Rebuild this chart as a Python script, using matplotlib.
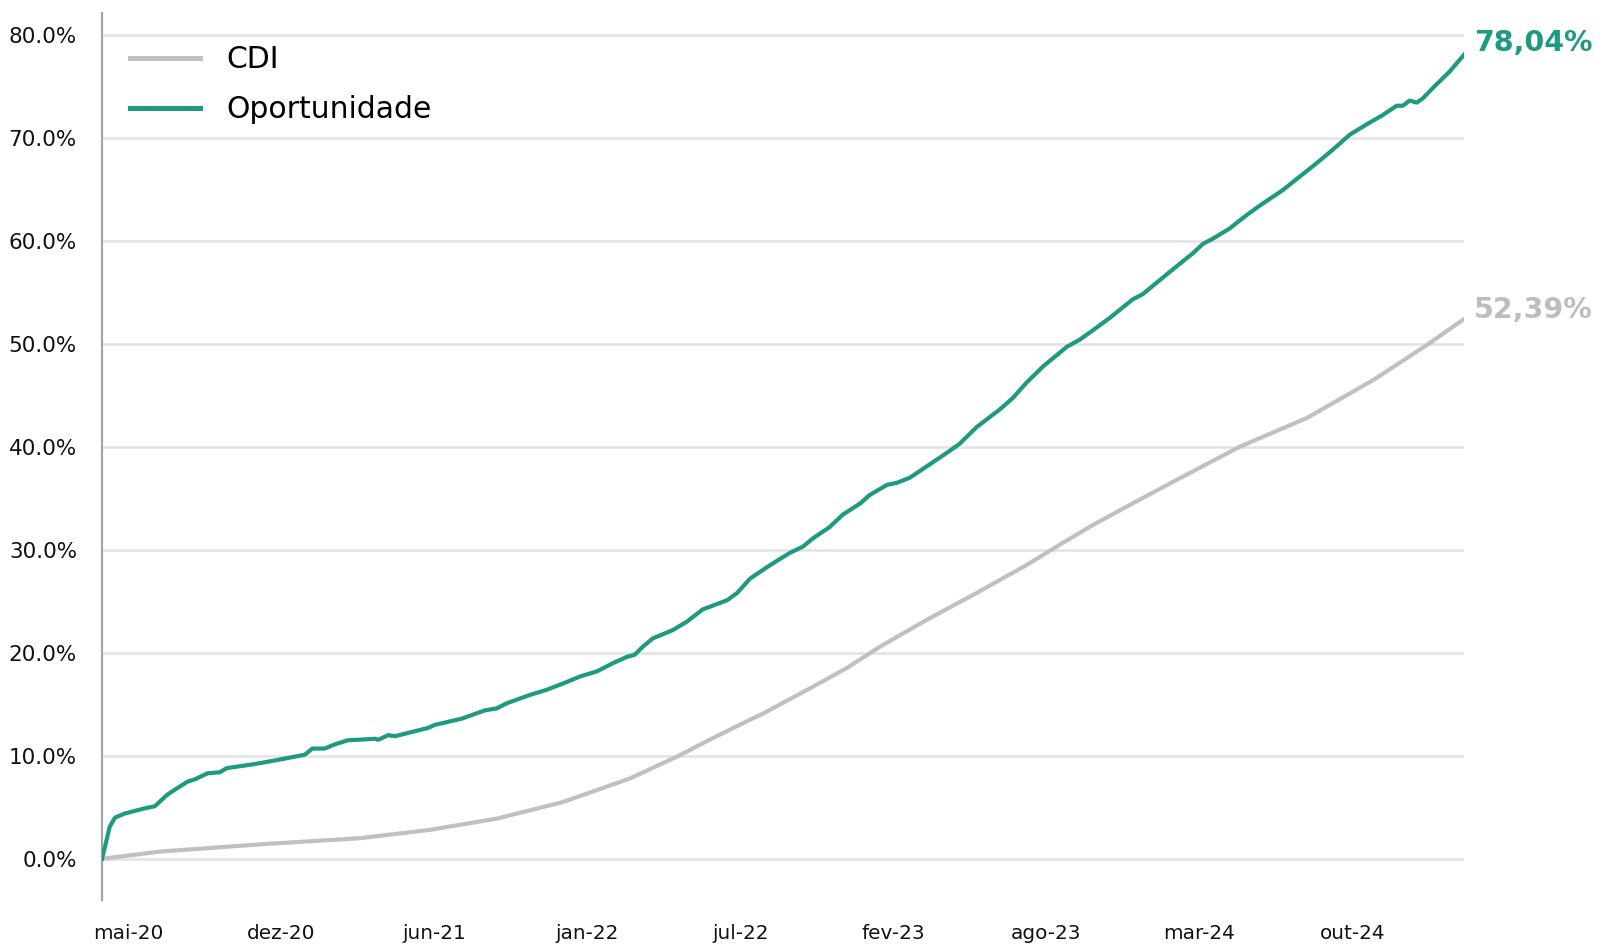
import matplotlib
matplotlib.use("Agg")
import matplotlib.pyplot as plt
import pandas as pd

# ---- data ----
oport_dates = [
    "2020-04-01", "2020-04-05", "2020-04-11", "2020-04-18", "2020-05-01", "2020-05-27",
    "2020-06-09", "2020-06-25", "2020-07-05", "2020-07-22", "2020-07-31", "2020-08-17",
    "2020-09-02", "2020-09-11", "2020-10-18", "2020-11-17", "2020-12-22", "2021-01-01",
    "2021-01-17", "2021-01-30", "2021-02-16", "2021-03-24", "2021-03-28", "2021-04-10",
    "2021-04-19", "2021-06-01", "2021-06-10", "2021-07-15", "2021-08-14", "2021-08-30",
    "2021-09-12", "2021-10-12", "2021-11-03", "2021-11-24", "2021-12-17", "2022-01-08",
    "2022-01-29", "2022-02-16", "2022-02-26", "2022-03-09", "2022-03-22", "2022-04-17",
    "2022-05-05", "2022-05-26", "2022-06-27", "2022-07-10", "2022-07-27", "2022-08-22",
    "2022-09-17", "2022-10-04", "2022-10-17", "2022-11-08", "2022-11-25", "2022-12-18",
    "2022-12-30", "2023-01-22", "2023-02-04", "2023-02-21", "2023-03-15", "2023-04-10",
    "2023-04-27", "2023-05-19", "2023-06-18", "2023-07-05", "2023-07-23", "2023-08-14",
    "2023-09-14", "2023-10-01", "2023-10-18", "2023-11-09", "2023-12-09", "2023-12-22",
    "2024-01-27", "2024-02-26", "2024-03-10", "2024-03-23", "2024-04-14", "2024-05-01",
    "2024-05-10", "2024-05-23", "2024-06-22", "2024-08-05", "2024-08-26", "2024-09-18",
    "2024-10-10", "2024-10-31", "2024-11-18", "2024-11-26", "2024-12-05", "2024-12-14",
    "2024-12-22", "2025-01-04", "2025-01-26", "2025-02-14",
]
oport_values = [
    0.0, 1.2, 3.1, 4.0, 4.4, 4.9,
    5.1, 6.2, 6.7, 7.5, 7.7, 8.3,
    8.4, 8.8, 9.2, 9.6, 10.1, 10.7,
    10.7, 11.1, 11.5, 11.65, 11.55, 12.0,
    11.9, 12.7, 13.0, 13.6, 14.4, 14.6,
    15.1, 15.9, 16.4, 17.0, 17.7, 18.2,
    19.0, 19.6, 19.8, 20.6, 21.4, 22.2,
    23.0, 24.2, 25.1, 25.8, 27.2, 28.5,
    29.7, 30.3, 31.1, 32.2, 33.4, 34.5,
    35.3, 36.3, 36.5, 37.0, 38.1, 39.4,
    40.3, 41.9, 43.6, 44.7, 46.2, 47.8,
    49.7, 50.4, 51.3, 52.5, 54.3, 54.8,
    57.0, 58.8, 59.7, 60.2, 61.2, 62.2,
    62.7, 63.4, 64.9, 67.5, 68.8, 70.3,
    71.3, 72.2, 73.1, 73.1, 73.6, 73.4,
    73.8, 74.8, 76.4, 78.04,
]

cdi_dates = [
    "2020-04-01", "2020-06-16", "2020-10-24", "2021-03-04", "2021-06-03", "2021-08-30",
    "2021-11-24", "2022-02-20", "2022-04-22", "2022-06-08", "2022-07-27", "2022-08-13",
    "2022-10-17", "2022-11-30", "2023-01-13", "2023-03-15", "2023-05-19", "2023-07-23",
    "2023-09-05", "2023-10-18", "2023-12-14", "2024-02-05", "2024-04-27", "2024-07-24",
    "2024-10-19", "2024-12-28", "2025-02-14",
]
cdi_values = [
    0.0, 0.7, 1.4, 2.0, 2.8, 3.9,
    5.5, 7.8, 9.9, 11.7, 13.5, 14.1,
    16.7, 18.5, 20.6, 23.2, 25.8, 28.5,
    30.5, 32.4, 34.7, 36.8, 40.0, 42.8,
    46.5, 49.9, 52.39,
]

tick_dates = ["2020-05-05", "2020-11-21", "2021-06-09", "2021-12-26", "2022-07-14",
              "2023-01-30", "2023-08-18", "2024-03-05", "2024-09-21"]
tick_labels = ["mai-20", "dez-20", "jun-21", "jan-22", "jul-22",
               "fev-23", "ago-23", "mar-24", "out-24"]
y_ticks = [0, 10, 20, 30, 40, 50, 60, 70, 80]

series_names = ["CDI", "Oportunidade"]
end_labels = ["52,39%", "78,04%"]

GREEN = "#1E9A80"
GRAY = "#C0C0C0"

plt.rcParams["font.family"] = ["DejaVu Sans"]

fig = plt.figure(figsize=(16.05, 9.47), dpi=100)
ax = fig.add_axes([0.06355, 0.04963, 0.8486, 0.93664])

x_oport = pd.to_datetime(oport_dates)
x_cdi = pd.to_datetime(cdi_dates)

ax.plot(x_cdi, cdi_values, color=GRAY, lw=3.0, label=series_names[0],
        solid_joinstyle="round", zorder=3)
ax.plot(x_oport, oport_values, color=GREEN, lw=3.0, label=series_names[1],
        solid_joinstyle="round", zorder=4)

ax.set_xlim(pd.Timestamp(oport_dates[0]), pd.Timestamp(oport_dates[-1]))
ax.set_ylim(-4.0, 82.1)

ax.set_yticks(y_ticks)
ax.set_yticklabels([f"{v:.1f}%" for v in y_ticks])
ax.set_xticks(pd.to_datetime(tick_dates))
ax.set_xticklabels(tick_labels)

ax.tick_params(axis="y", length=0, pad=18, labelsize=15.5, labelcolor="#111111")
ax.tick_params(axis="x", length=0, pad=17, labelsize=14.4, labelcolor="#111111")

ax.grid(axis="y", color="#E3E3E3", lw=1.8, zorder=0)
ax.grid(axis="x", visible=False)
ax.set_axisbelow(True)
for s in ["top", "right", "bottom"]:
    ax.spines[s].set_visible(False)
ax.spines["left"].set_color("#A6A6A6")
ax.spines["left"].set_linewidth(1.6)

leg = ax.legend(loc="upper left", bbox_to_anchor=(0.0206, 0.9635), frameon=False,
                prop={"family": ["DejaVu Sans"], "size": 21.5},
                handlelength=2.34, handletextpad=0.9, labelspacing=0.7,
                borderpad=0, borderaxespad=0)
for line in leg.get_lines():
    line.set_linewidth(3.6)

ax.annotate(end_labels[1], xy=(x_oport[-1], oport_values[-1]), xytext=(10, 12),
            textcoords="offset pixels", ha="left", va="center", fontsize=20.5,
            fontweight="bold", color=GREEN, annotation_clip=False)
ax.annotate(end_labels[0], xy=(x_cdi[-1], cdi_values[-1]), xytext=(10, 9),
            textcoords="offset pixels", ha="left", va="center", fontsize=20.5,
            fontweight="bold", color="#BDBDBD", annotation_clip=False)

fig.savefig("out.png", dpi=100, facecolor="white")
